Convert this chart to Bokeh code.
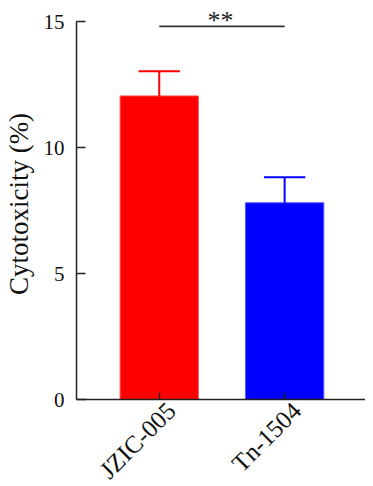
import math
from bokeh.plotting import figure
from bokeh.models import FixedTicker, Range1d, ColumnDataSource, LinearAxis
from bokeh.core.properties import value
from bokeh.embed import file_html
from bokeh.resources import INLINE

# ---- data ----
categories = ["JZIC-005", "Tn-1504"]
means = [12.05, 7.81]
errors = [0.98, 1.01]
colors = ["#ff0000", "#0000ff"]
edge_colors = ["#ff5a5a", "#5a5aff"]
y_ticks = [0, 5, 10, 15]
sig_label = "**"
sig_level = 14.81

xs = list(range(1, len(categories) + 1))
bar_w = 0.625
cap_w = 0.33
tops = [m + e for m, e in zip(means, errors)]

x0, x1 = 0.34, 2.645
lab_shift = 0.097

p = figure(width=365, height=510, output_backend="svg", toolbar_location=None,
           x_range=Range1d(x0, x1), y_range=Range1d(0, 15.52),
           min_border_left=70, min_border_right=0, min_border_top=8,
           min_border_bottom=111)
p.outline_line_color = None
p.grid.visible = False
p.extra_x_ranges = {"lab": Range1d(x0 - lab_shift, x1 - lab_shift)}

src = ColumnDataSource(dict(x=xs, top=means, err_top=tops, color=colors,
                            edge=edge_colors,
                            cx0=[x - cap_w / 2 for x in xs],
                            cx1=[x + cap_w / 2 for x in xs]))

p.vbar(x="x", top="top", bottom=0, width=bar_w, fill_color="color",
       line_color="edge", line_width=1, source=src)
p.segment(x0="x", y0="top", x1="x", y1="err_top", line_color="color",
          line_width=2, source=src)
p.segment(x0="cx0", y0="err_top", x1="cx1", y1="err_top", line_color="color",
          line_width=2, source=src)

# significance bracket
p.line(x=[xs[0], xs[1]], y=[sig_level, sig_level], line_color="#333333",
       line_width=1.6)
p.text(x=[(xs[0] + xs[1]) / 2 - 0.012], y=[sig_level], text=[sig_label],
       text_font=value("Liberation Serif"), text_font_size="26px",
       text_align="center", text_baseline="alphabetic", y_offset=-6,
       text_color="#222222")

# y axis
yax = p.yaxis[0]
yax.ticker = FixedTicker(ticks=y_ticks)
yax.bounds = (0, 15)
yax.axis_label = "Cytotoxicity (%)"
yax.axis_label_text_font = "Liberation Serif"
yax.axis_label_text_font_size = "27px"
yax.axis_label_text_font_style = "normal"
yax.axis_label_standoff = 7
yax.major_label_text_font = "Liberation Serif"
yax.major_label_text_font_size = "21px"
yax.major_label_standoff = 12
yax.major_tick_in = 9
yax.major_tick_out = 0
yax.minor_tick_line_color = None
yax.axis_line_width = 1.5
yax.major_tick_line_width = 1.5
yax.axis_line_color = "#222222"
yax.major_tick_line_color = "#222222"
yax.major_label_text_color = "#111111"
yax.axis_label_text_color = "#111111"

# x axis: line and inward ticks
xax = p.xaxis[0]
xax.ticker = FixedTicker(ticks=xs)
xax.major_label_overrides = {x: "" for x in xs}
xax.major_label_text_font_size = "0px"
xax.major_label_standoff = 0
xax.major_tick_in = 7
xax.major_tick_out = 0
xax.minor_tick_line_color = None
xax.axis_line_width = 1.5
xax.major_tick_line_width = 1.5
xax.axis_line_color = "#222222"
xax.major_tick_line_color = "#222222"

# x axis: rotated category names
lab_axis = LinearAxis(x_range_name="lab", ticker=FixedTicker(ticks=xs),
                      major_label_overrides={x: c for x, c in zip(xs, categories)},
                      major_label_orientation=math.pi / 4,
                      major_label_standoff=7,
                      major_label_text_font="Liberation Serif",
                      major_label_text_font_size="25px",
                      major_label_text_color="#111111",
                      axis_line_color=None, major_tick_line_color=None,
                      minor_tick_line_color=None,
                      major_tick_in=0, major_tick_out=0)
p.add_layout(lab_axis, "below")

open("out.html", "w").write(file_html(p, INLINE))
